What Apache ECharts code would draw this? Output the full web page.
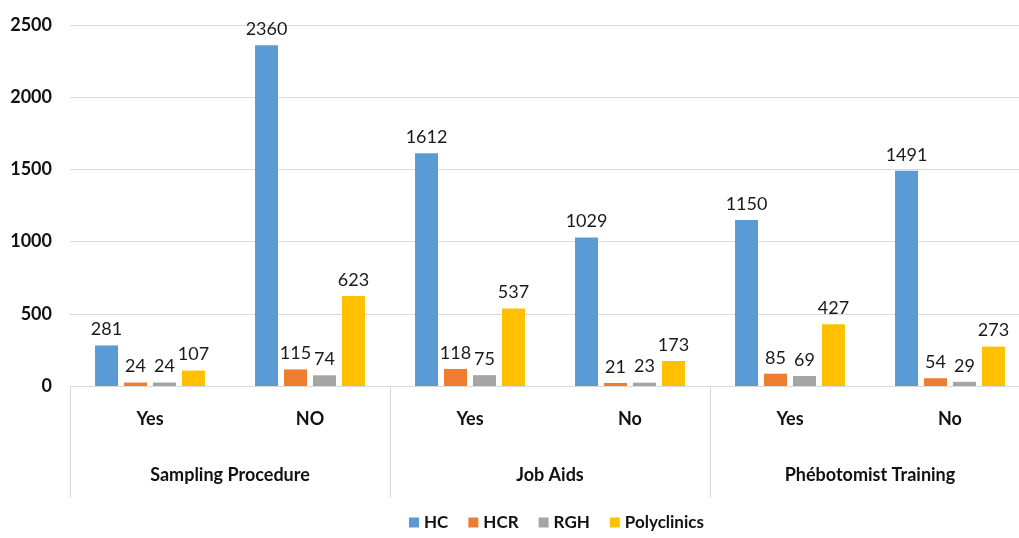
<!DOCTYPE html>
<html>
<head>
<meta charset="utf-8">
<script src="https://cdn.jsdelivr.net/npm/echarts@6/dist/echarts.min.js"></script>
<style>
  html, body { margin: 0; padding: 0; background: #fff; overflow: hidden; }
  #chart { width: 1030px; height: 538px; }
</style>
</head>
<body>
<div id="chart"></div>
<script>
const answers = ['Yes', 'NO', 'Yes', 'No', 'Yes', 'No']
const groups = ['Sampling Procedure', 'Job Aids', 'Phébotomist Training']
const hc = [281, 2360, 1612, 1029, 1150, 1491]
const hcr = [24, 115, 118, 21, 85, 54]
const rgh = [24, 74, 75, 23, 69, 29]
const polyclinics = [107, 623, 537, 173, 427, 273]
const yTicks = [0, 500, 1000, 1500, 2000, 2500]

const font = 'Lato, "Open Sans", sans-serif'
const gridColor = '#d9d9d9'

function bar(name, data, color) {
  return {
    name: name,
    type: 'bar',
    data: data,
    barWidth: 23,
    barGap: '26%',
    itemStyle: { color: color },
    label: {
      show: true,
      position: 'top',
      distance: 7,
      color: '#1a1a1a',
      fontFamily: font,
      fontSize: 18
    }
  }
}

// the original plot runs slightly past the right edge of the window
const chart = echarts.init(document.getElementById('chart'))
chart.setOption({
  animation: false,
  textStyle: { fontFamily: font },
  grid: { left: 70, right: 0, top: 25, bottom: 152, containLabel: false },
  legend: {
    bottom: 2,
    left: 404,
    itemWidth: 10,
    itemHeight: 10,
    itemGap: 20,
    icon: 'rect',
    textStyle: { fontFamily: font, fontSize: 17, fontWeight: 'bold', color: '#111' },
    data: ['HC', 'HCR', 'RGH', 'Polyclinics']
  },
  xAxis: [
    {
      type: 'category',
      data: answers,
      axisLine: { lineStyle: { color: gridColor, width: 1 } },
      axisTick: { show: false },
      axisLabel: {
        margin: 24,
        fontFamily: font,
        fontSize: 18,
        fontWeight: 'bold',
        color: '#111'
      }
    },
    {
      type: 'category',
      data: groups,
      position: 'bottom',
      axisLine: { show: false },
      axisTick: {
        show: true,
        length: 112,
        interval: 0,
        lineStyle: { color: gridColor, width: 1 }
      },
      axisLabel: {
        margin: 80,
        fontFamily: font,
        fontSize: 18,
        fontWeight: 'bold',
        color: '#111'
      }
    }
  ],
  yAxis: {
    type: 'value',
    min: yTicks[0],
    max: yTicks[yTicks.length - 1],
    interval: 500,
    axisLine: { show: false },
    axisTick: { show: false },
    splitLine: { lineStyle: { color: gridColor, width: 1 } },
    axisLabel: {
      margin: 18,
      formatter: function (v) { return String(v) },
      fontFamily: font,
      fontSize: 18,
      fontWeight: 'bold',
      color: '#111'
    }
  },
  series: [
    bar('HC', hc, '#5b9bd5'),
    bar('HCR', hcr, '#ed7d31'),
    bar('RGH', rgh, '#a5a5a5'),
    bar('Polyclinics', polyclinics, '#ffc000')
  ]
})
</script>
</body>
</html>
